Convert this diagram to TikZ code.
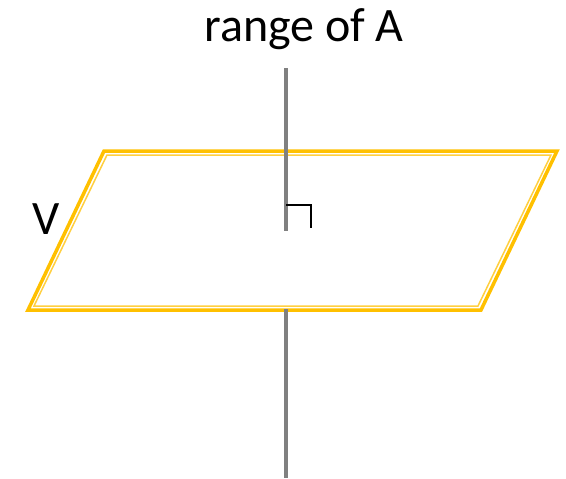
\documentclass[tikz,border=0pt]{standalone}
\usepackage{fontspec}
\setmainfont{Carlito}
\usepackage{xcolor}
\usetikzlibrary{positioning}

\definecolor{planegold}{HTML}{FFC000}
\definecolor{planelight}{HTML}{FFCF40}
\definecolor{axisgray}{HTML}{808080}

\begin{document}
\begin{tikzpicture}[
  x=1pt, y=-1pt,
  every node/.style={inner sep=0pt},
  pl/.style  ={draw=planegold, line width=3.5pt, line join=miter},
  pli/.style ={draw=planelight, line width=1.5pt, line join=miter},
  ax/.style  ={draw=axisgray, line width=4pt},
  ra/.style  ={draw=black, line width=1.5pt},
  lbl/.style ={font=\fontsize{48}{56}\selectfont},
]
\useasboundingbox (0,0) rectangle (566,479);

%% ─── Plane V (outer line + thin inner line) ─────────────────────────────────
\coordinate (TL) at (104,151);
\coordinate (TR) at (557,151);
\coordinate (BR) at (481,310);
\coordinate (BL) at (28,310);
\draw[pl] (TL) -- (TR) -- (BR) -- (BL) -- cycle;
\draw[pli] (107,155) -- (551,155) -- (478,306) -- (34,306) -- cycle;

\node[lbl] (V) at (46,219) {V};

%% ─── Range of A (normal line) ───────────────────────────────────────────────
\coordinate (AxTop) at (286,68);
\coordinate (AxMid) at (286,231);
\coordinate (AxLow) at (286,309);
\coordinate (AxBot) at (286,478);
\draw[ax] (AxTop) -- (AxMid);
\draw[ax] (AxLow) -- (AxBot);

\node[lbl] (rng) at (304,29) {range of A};

% right-angle mark
\coordinate (RA1) at (286,205);
\coordinate (RA2) at (311,205);
\coordinate (RA3) at (311,228);
\draw[ra] (RA1) -- (RA2) -- (RA3);

\end{tikzpicture}
\end{document}
